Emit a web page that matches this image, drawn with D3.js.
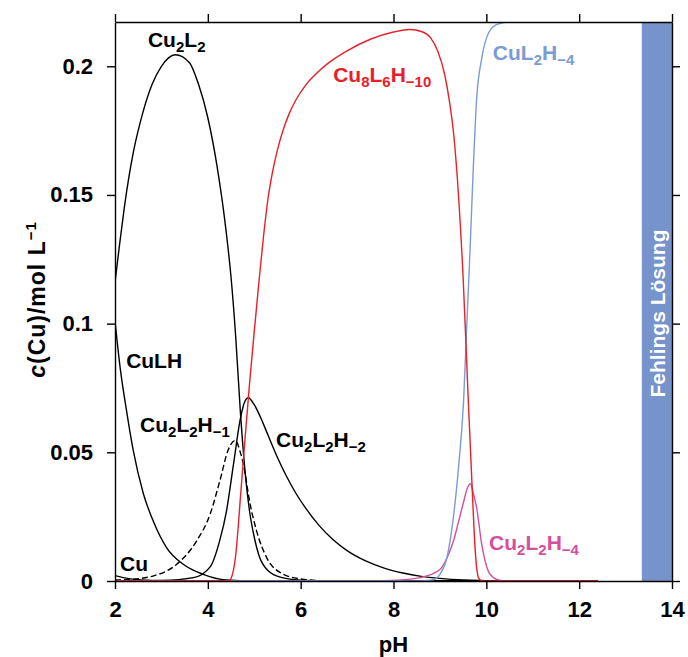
<!DOCTYPE html>
<html>
<head>
<meta charset="utf-8">
<script src="https://cdn.jsdelivr.net/npm/d3@7"></script>
<style>
  body { margin: 0; background: #fff; }
  text { font-family: "Liberation Sans", Arial, Helvetica, sans-serif; font-weight: bold; }
</style>
</head>
<body>
<div id="chart"></div>
<script>
// species distribution, [pH, c(Cu) in mol/L]
var cu = [[2, 0.0021], [2.3, 0.0009], [2.7, 0.0003], [3.2, 0.00008], [4, 0], [12.4, 0]];
var culh = [[2, 0.101], [2.11, 0.083], [2.25, 0.066], [2.39, 0.051], [2.61, 0.034], [2.83, 0.023],
            [3.11, 0.013], [3.47, 0.0065], [3.9, 0.0026], [4.4, 0.0004], [5, 0], [12.4, 0]];
var cu2l2 = [[2, 0.116], [2.1, 0.131], [2.2, 0.145], [2.3, 0.157], [2.4, 0.167], [2.6, 0.182], [2.8, 0.193],
             [3.0, 0.2], [3.3, 0.2045], [3.6, 0.2015], [3.8, 0.193], [4.0, 0.18], [4.2, 0.161], [4.4, 0.135],
             [4.5, 0.118], [4.6, 0.095], [4.7, 0.066], [4.8, 0.043], [4.9, 0.027], [5.0, 0.017], [5.1, 0.010],
             [5.3, 0.004], [5.6, 0.0013], [6.0, 0.0003], [6.5, 0], [12.4, 0]];
var cu2l2h1 = [[2, 0.0004], [2.3, 0.0006], [2.83, 0.002], [3.33, 0.0065], [3.76, 0.0156], [4.05, 0.026],
               [4.26, 0.039], [4.44, 0.051], [4.59, 0.0546], [4.7, 0.050], [4.77, 0.045], [4.91, 0.030],
               [5.05, 0.0195], [5.27, 0.009], [5.63, 0.0026], [6.0, 0.0008], [6.5, 0.0001], [7, 0], [12.4, 0]];
var cu2l2h2 = [[2, 0], [3.0, 0.0002], [3.69, 0.0013], [4.05, 0.0055], [4.26, 0.016], [4.4, 0.027],
               [4.55, 0.045], [4.69, 0.062], [4.78, 0.069], [4.87, 0.0712], [5.0, 0.0685], [5.15, 0.063],
               [5.3, 0.0565], [5.5, 0.048], [5.7, 0.0405], [5.9, 0.034], [6.1, 0.0285], [6.4, 0.0215],
               [6.7, 0.016], [7.0, 0.0118], [7.4, 0.0078], [7.8, 0.005], [8.2, 0.0031], [8.6, 0.0018],
               [9.0, 0.001], [9.5, 0.0004], [10.5, 0], [12.4, 0]];
var cu8l6h10 = [[2, 0], [4.45, 0], [4.5, 0.001], [4.55, 0.004], [4.6, 0.010], [4.65, 0.020], [4.7, 0.032],
                [4.8, 0.055], [4.9, 0.077], [5.0, 0.097], [5.1, 0.116], [5.2, 0.134], [5.3, 0.149], [5.4, 0.1595],
                [5.5, 0.1675], [5.6, 0.174], [5.75, 0.1815], [5.9, 0.187], [6.1, 0.1925], [6.3, 0.1965],
                [6.6, 0.2013], [7.0, 0.206], [7.5, 0.2105], [8.0, 0.2133], [8.35, 0.2143], [8.6, 0.2135],
                [8.8, 0.211], [8.95, 0.206], [9.1, 0.197], [9.2, 0.187], [9.3, 0.173], [9.4, 0.15], [9.5, 0.118],
                [9.6, 0.075], [9.7, 0.034], [9.76, 0.012], [9.83, 0.0013], [9.9, 0], [12.4, 0]];
var cul2h4 = [[2, 0], [8.5, 0], [8.86, 0.0005], [9.0, 0.0026], [9.15, 0.009], [9.29, 0.0247], [9.4, 0.044],
              [9.51, 0.07], [9.58, 0.1], [9.65, 0.129], [9.72, 0.161], [9.79, 0.187], [9.9, 0.203],
              [10.05, 0.213], [10.23, 0.2163], [10.51, 0.2172], [12.4, 0.2172]];
var cu2l2h4 = [[2, 0], [7.5, 0], [8.07, 0.0003], [8.57, 0.0013], [9.0, 0.0045], [9.2, 0.011], [9.3, 0.016],
               [9.4, 0.023], [9.5, 0.030], [9.6, 0.0365], [9.66, 0.0378], [9.72, 0.034], [9.79, 0.0286],
               [9.9, 0.0143], [10.0, 0.006], [10.08, 0.0026], [10.3, 0.0002], [10.5, 0], [12.4, 0]];

// Fehling's solution pH range
var fehlingRange = [13.35, 14];

var xTicks = [2, 4, 6, 8, 10, 12, 14];
var yTicks = [0, 0.05, 0.1, 0.15, 0.2];
var yTickLabels = ["0", "0.05", "0.1", "0.15", "0.2"];

var totalWidth = 688, totalHeight = 657;
var margin = {left: 115, right: 16, top: 22, bottom: 76};
var width = totalWidth - margin.left - margin.right;
var height = totalHeight - margin.top - margin.bottom;

var red = "#e8202a", blue = "#7b9bd6", pink = "#d3509c", band = "#7793cb";

var x = d3.scaleLinear().domain([2, 14]).range([0, width]);
var y = d3.scaleLinear().domain([0, 0.2172]).range([height, 0]);

var svg = d3.select("#chart").append("svg")
    .attr("width", totalWidth)
    .attr("height", totalHeight)
  .append("g")
    .attr("transform", "translate(" + margin.left + "," + margin.top + ")");

svg.append("defs").append("clipPath")
    .attr("id", "plotclip")
  .append("rect")
    .attr("width", width)
    .attr("height", height);

// Fehlings band
svg.append("rect")
    .attr("x", x(fehlingRange[0]))
    .attr("y", 0)
    .attr("width", x(fehlingRange[1]) - x(fehlingRange[0]))
    .attr("height", height)
    .style("fill", band);

svg.append("text")
    .attr("transform", "translate(" + (x((fehlingRange[0] + fehlingRange[1]) / 2) + 8) + "," + (height / 2 + 12) + ") rotate(-90)")
    .style("text-anchor", "middle")
    .style("font-size", "21px")
    .style("fill", "white")
    .text("Fehlings Lösung");

var valueline = d3.line()
    .curve(d3.curveMonotoneX)
    .x(function(d) { return x(d[0]); })
    .y(function(d) { return y(d[1]); });

var series = [
  {data: cu, color: "black", dash: null},
  {data: culh, color: "black", dash: null},
  {data: cu2l2, color: "black", dash: null},
  {data: cu2l2h1, color: "black", dash: "6,3"},
  {data: cu2l2h2, color: "black", dash: null},
  {data: cu2l2h4, color: pink, dash: null},
  {data: cul2h4, color: blue, dash: null},
  {data: cu8l6h10, color: red, dash: null}
];

var lines = svg.append("g").attr("clip-path", "url(#plotclip)");
for (var i = 0; i < series.length; i++) {
  lines.append("path")
      .datum(series[i].data)
      .attr("d", valueline)
      .style("fill", "none")
      .style("stroke", series[i].color)
      .style("stroke-width", 1.4)
      .style("stroke-dasharray", series[i].dash);
}

// species labels, anchored in data units; parts: [text, subscript?]
var labels = [
  {at: [2.71, 0.2075], color: "black", parts: [["Cu"], ["2", 1], ["L"], ["2", 1]]},
  {at: [2.24, 0.0828], color: "black", parts: [["CuLH"]]},
  {at: [2.54, 0.0579], color: "black", parts: [["Cu"], ["2", 1], ["L"], ["2", 1], ["H"], ["\u22121", 1]]},
  {at: [5.47, 0.0521], color: "black", parts: [["Cu"], ["2", 1], ["L"], ["2", 1], ["H"], ["\u22122", 1]]},
  {at: [2.11, 0.0039], color: "black", parts: [["Cu"]]},
  {at: [6.70, 0.1939], color: red, parts: [["Cu"], ["8", 1], ["L"], ["6", 1], ["H"], ["\u221210", 1]]},
  {at: [10.14, 0.2024], color: blue, parts: [["CuL"], ["2", 1], ["H"], ["\u22124", 1]]},
  {at: [10.06, 0.0121], color: pink, parts: [["Cu"], ["2", 1], ["L"], ["2", 1], ["H"], ["\u22124", 1]]}
];

labels.forEach(function(l) {
  var t = svg.append("text")
      .attr("x", x(l.at[0]))
      .attr("y", y(l.at[1]))
      .style("font-size", "21px")
      .style("fill", l.color);
  var shifted = false;
  l.parts.forEach(function(p) {
    var s = t.append("tspan").text(p[0]);
    if (p[1] && !shifted) { s.attr("dy", 5).style("font-size", "15px"); shifted = true; }
    else if (p[1]) { s.style("font-size", "15px"); }
    else if (shifted) { s.attr("dy", -5); shifted = false; }
  });
});

// axes
svg.append("g")
    .attr("class", "axis")
    .attr("transform", "translate(0," + height + ")")
    .call(d3.axisBottom(x).tickValues(xTicks).tickSize(8).tickPadding(12).tickSizeOuter(0));

svg.append("g")
    .attr("class", "axis")
    .call(d3.axisTop(x).tickValues(xTicks).tickSize(8).tickFormat("").tickSizeOuter(0));

svg.append("g")
    .attr("class", "axis")
    .call(d3.axisLeft(y).tickValues(yTicks).tickSize(8).tickPadding(14).tickSizeOuter(0)
        .tickFormat(function(d, i) { return yTickLabels[i]; }));

svg.append("g")
    .attr("class", "axis")
    .attr("transform", "translate(" + width + ",0)")
    .call(d3.axisRight(y).tickValues(yTicks).tickSize(8).tickFormat("").tickSizeOuter(0));

svg.selectAll(".axis text")
    .style("font-size", "22px")
    .style("font-family", "'Liberation Sans', Arial, sans-serif")
    .style("font-weight", "bold")
    .style("fill", "black");

svg.selectAll(".axis path, .axis line")
    .style("stroke", "black")
    .style("stroke-width", 1.4);

// axis titles
svg.append("text")
    .attr("x", width / 2)
    .attr("y", height + 71)
    .style("text-anchor", "middle")
    .style("font-size", "22px")
    .text("pH");

var ylab = svg.append("text")
    .attr("transform", "translate(" + (-70) + "," + (height / 2 - 2) + ") rotate(-90)")
    .style("text-anchor", "middle")
    .style("letter-spacing", "1px")
    .style("font-size", "23px");
ylab.append("tspan").style("font-style", "italic").text("c");
ylab.append("tspan").text("(Cu)/mol L");
ylab.append("tspan").attr("dy", -9).style("font-size", "15px").text("\u22121");
</script>
</body>
</html>
